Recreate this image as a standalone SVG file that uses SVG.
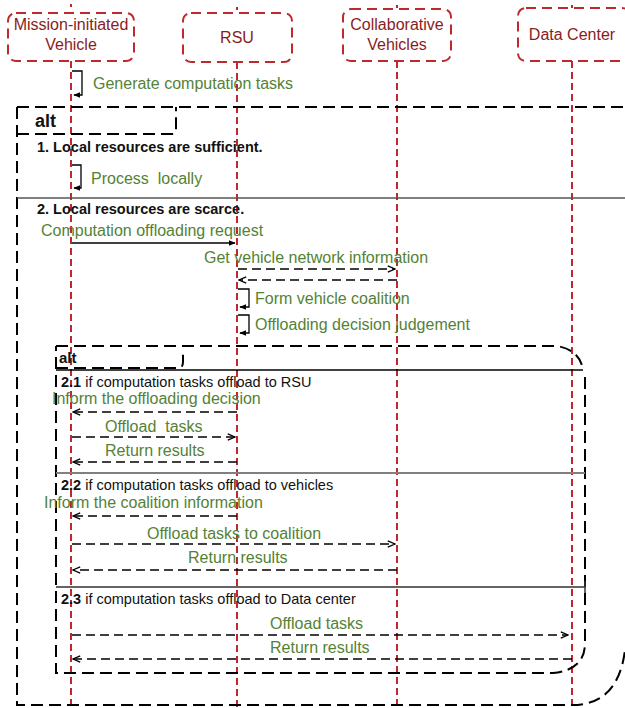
<svg xmlns="http://www.w3.org/2000/svg" width="625" height="708" viewBox="0 0 625 708">
<style>
.hdbox{fill:#fff;stroke:#c0282d;stroke-width:2;stroke-dasharray:10,6}
.hd{font-family:"Liberation Sans",Arial,sans-serif;font-size:16px;fill:#8a1c1c;text-anchor:middle}
.life{fill:none;stroke:#c0282d;stroke-width:2;stroke-dasharray:7,4}
.frame{fill:none;stroke:#000;stroke-width:2;stroke-dasharray:12,6}
.sep{fill:none;stroke:#555;stroke-width:1.5}
.msg{font-family:"Liberation Sans",Arial,sans-serif;font-size:16px;fill:#548235}
.cond{font-family:"Liberation Sans",Arial,sans-serif;font-size:14.5px;fill:#111}
.b{font-weight:bold}
.solid{fill:none;stroke:#000;stroke-width:1.3}
.dash{fill:none;stroke:#000;stroke-width:1.5;stroke-dasharray:9,5}
</style>
<defs>
<marker id="open" viewBox="0 0 10 10" refX="9" refY="5" markerWidth="9" markerHeight="9" markerUnits="userSpaceOnUse" orient="auto"><path d="M1,1.5 L9,5 L1,8.5" fill="none" stroke="#000" stroke-width="1.5"/></marker>
<marker id="fill" viewBox="0 0 10 10" refX="9" refY="5" markerWidth="7" markerHeight="7" markerUnits="userSpaceOnUse" orient="auto"><path d="M0,1 L10,5 L0,9 z" fill="#000"/></marker>
</defs>
<rect width="625" height="708" fill="#fff"/>

<g id="lifelines">
<path class="life" d="M71,61 V708 M237,62 V708 M397,61 V708 M572,61 V708"/>
<path fill="none" stroke="#c0282d" stroke-width="2" d="M71,4 V7 M237,7 V10 M397,5 V8 M572,5 V8"/>
</g>

<g id="frames">
<path class="frame" d="M17,107 H625 M17,107 V705 H572 C600,705 620,690 625,650"/>
<path class="frame" d="M17,134 H172 Q176,134 176,130 V107"/>
<text x="35" y="127" class="cond b" style="font-size:18px">alt</text>
<text x="37" y="152" class="cond b">1. Local resources are sufficient.</text>
<path class="sep" d="M17,198 H625"/>
<text x="37" y="214" class="cond b">2. Local resources are scarce.</text>

<path class="frame" d="M56,346 H557 Q580,350 583,370 M585,377 V643 Q585,670 553,673 H56 V346"/>
<path class="frame" d="M56,368 H178 Q183,368 183,362 V354"/>
<text x="59" y="363" class="cond b" style="font-size:15px">alt</text>
<path fill="none" stroke="#000" stroke-width="1.3" d="M56,370 H583"/>
<text x="61" y="387" class="cond"><tspan class="b">2.1</tspan> if computation tasks offload to RSU</text>
<path fill="none" stroke="#808080" stroke-width="2" d="M56,473 H585"/>
<text x="61" y="490" class="cond"><tspan class="b">2.2</tspan> if computation tasks offload to vehicles</text>
<path fill="none" stroke="#333" stroke-width="1.5" d="M56,587 H585 M585,581 V593"/>
<text x="61" y="604" class="cond"><tspan class="b">2.3</tspan> if computation tasks offload to Data center</text>
</g>

<g id="node-mission-vehicle">
<rect class="hdbox" x="8" y="13" width="126" height="48" rx="8"/>
<text class="hd" x="71" y="30">Mission-initiated</text>
<text class="hd" x="71" y="50">Vehicle</text>
</g>
<g id="node-rsu">
<rect class="hdbox" x="183" y="13" width="109" height="49" rx="8"/>
<text class="hd" x="237" y="43">RSU</text>
</g>
<g id="node-collab">
<rect class="hdbox" x="343" y="9" width="108" height="52" rx="8"/>
<text class="hd" x="397" y="30">Collaborative</text>
<text class="hd" x="397" y="50">Vehicles</text>
</g>
<g id="node-datacenter">
<rect class="hdbox" x="518" y="8" width="112" height="53" rx="8"/>
<text class="hd" x="572" y="40">Data Center</text>
</g>

<g id="connectors">
<path class="solid" d="M72,71 H82 V95 H74" marker-end="url(#fill)"/>
<path class="solid" d="M72,165 H81 V188 H74" marker-end="url(#fill)"/>
<path class="solid" d="M72,243 H235" marker-end="url(#fill)"/>
<path class="dash" d="M238,269 H395" marker-end="url(#open)"/>
<path class="dash" d="M397,280 H239" marker-end="url(#open)"/>
<path class="solid" d="M238,289 H249 V307 H240" marker-end="url(#fill)"/>
<path class="solid" d="M238,315 H249 V333 H240" marker-end="url(#fill)"/>
<path class="dash" d="M237,412 H73" marker-end="url(#open)"/>
<path class="dash" d="M72,437 H235" marker-end="url(#open)"/>
<path class="dash" d="M237,462 H73" marker-end="url(#open)"/>
<path class="dash" d="M237,516 H73" marker-end="url(#open)"/>
<path class="dash" d="M72,544 H395" marker-end="url(#open)"/>
<path class="dash" d="M397,570 H73" marker-end="url(#open)"/>
<path class="dash" d="M72,635 H568" marker-end="url(#open)"/>
<path class="dash" d="M572,659 H73" marker-end="url(#open)"/>
</g>

<g id="labels">
<text class="msg" x="93" y="89">Generate computation tasks</text>
<text class="msg" x="91" y="184" xml:space="preserve" style="white-space:pre">Process  locally</text>
<text class="msg" x="41" y="236">Computation offloading request</text>
<text class="msg" x="204" y="263">Get vehicle network information</text>
<text class="msg" x="255" y="304">Form vehicle coalition</text>
<text class="msg" x="255" y="330">Offloading decision judgement</text>
<text class="msg" x="52" y="404">Inform the offloading decision</text>
<text class="msg" x="105" y="432" xml:space="preserve" style="white-space:pre">Offload  tasks</text>
<text class="msg" x="105" y="456">Return results</text>
<text class="msg" x="44" y="508">Inform the coalition information</text>
<text class="msg" x="147" y="539">Offload tasks to coalition</text>
<text class="msg" x="188" y="563">Return results</text>
<text class="msg" x="270" y="629">Offload tasks</text>
<text class="msg" x="270" y="653">Return results</text>
</g>
</svg>
